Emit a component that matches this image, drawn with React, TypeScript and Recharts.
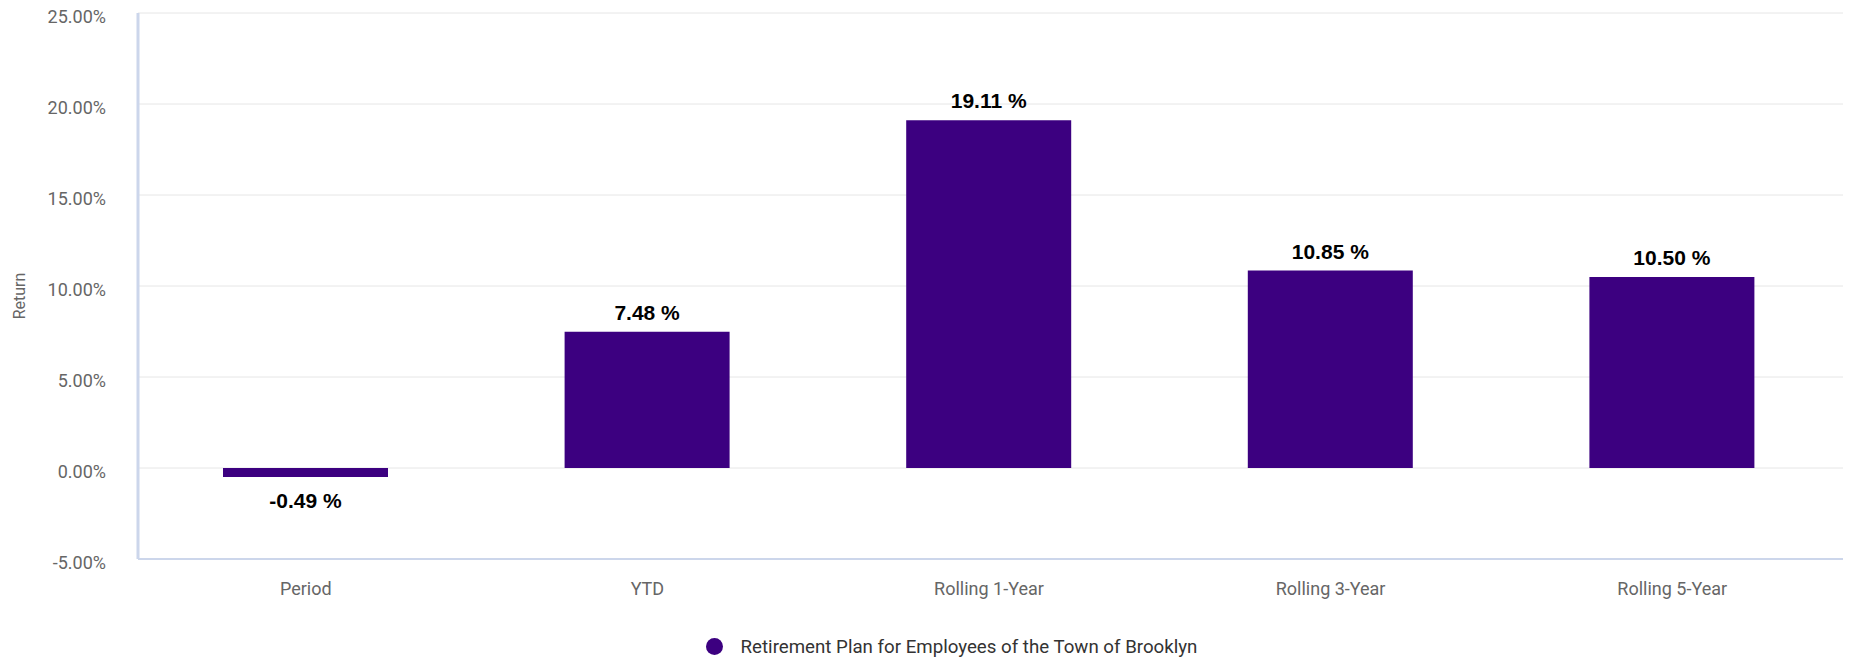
import React from "react";
import {
  BarChart,
  Bar,
  XAxis,
  YAxis,
  CartesianGrid,
  Legend,
  LabelList,
  Label,
} from "recharts";

const categories = ["Period", "YTD", "Rolling 1-Year", "Rolling 3-Year", "Rolling 5-Year"];
const returns = [-0.49, 7.48, 19.11, 10.85, 10.5];
const yTicks = [-5, 0, 5, 10, 15, 20, 25];
const seriesName = "Retirement Plan for Employees of the Town of Brooklyn";

const data = categories.map((c, i) => ({ name: c, value: returns[i] }));

const BAR_COLOR = "#3c0080";

const renderValueLabel = (props: any) => {
  const { x, y, width, height, value } = props;
  const top = Math.min(y, y + height);
  const bottom = Math.max(y, y + height);
  const cx = x + width / 2;
  const ty = value < 0 ? bottom + 31 : top - 12;
  return (
    <text
      x={cx}
      y={ty}
      textAnchor="middle"
      fill="#000000"
      style={{ fontFamily: "'Liberation Sans', Arial, sans-serif", fontSize: 21, fontWeight: 700 }}
    >
      {`${Number(value).toFixed(2)} %`}
    </text>
  );
};

const renderLegend = () => (
  <div
    style={{
      height: 63,
      boxSizing: "border-box",
      paddingTop: 36,
      paddingLeft: 60,
      display: "flex",
      justifyContent: "center",
      alignItems: "center",
      fontFamily: "Roboto, sans-serif",
      fontSize: 18.7,
      lineHeight: "20px",
      color: "#333333",
    }}
  >
    <span style={{ display: "flex", alignItems: "center" }}>
      <span
        style={{
          display: "inline-block",
          width: 17,
          height: 17,
          borderRadius: "50%",
          background: BAR_COLOR,
          marginRight: 18,
        }}
      />
      <span>{seriesName}</span>
    </span>
  </div>
);

const renderYTitle = (props: any) => {
  const vb = props.viewBox || {};
  const cy = vb.y + vb.height / 2 + 10;
  const cx = 19;
  return (
    <text
      x={cx}
      y={cy}
      transform={`rotate(-90, ${cx}, ${cy})`}
      textAnchor="middle"
      dominantBaseline="central"
      fill="#666666"
      style={{ fontFamily: "Roboto, sans-serif", fontSize: 16 }}
    >
      Return
    </text>
  );
};

const renderYTick = (props: any) => {
  const { x, y, payload } = props;
  return (
    <text
      x={x}
      y={y + 3}
      textAnchor="end"
      dominantBaseline="central"
      fill="#666666"
      style={{ fontFamily: "Roboto, sans-serif", fontSize: 18 }}
    >
      {`${Number(payload.value).toFixed(2)}%`}
    </text>
  );
};

export default function App() {
  return (
    <div style={{ position: "absolute", left: 0, top: 0, width: 1851, height: 660, background: "#fff" }}>
      <BarChart
        width={1851}
        height={660}
        data={data}
        margin={{ top: 13, right: 8, left: 0, bottom: 0 }}
      >
        <CartesianGrid horizontal={true} vertical={false} stroke="#e6e6e6" strokeWidth={1} />
        <XAxis
          dataKey="name"
          height={38}
          tickLine={false}
          tickSize={0}
          tickMargin={23}
          padding={{ left: -3, right: 0 }}
          axisLine={{ stroke: "#ccd6eb", strokeWidth: 2 }}
          tick={{ fill: "#666666", fontSize: 18, fontFamily: "Roboto, sans-serif" }}
          interval={0}
        />
        <YAxis
          width={138}
          domain={[-5, 25]}
          ticks={yTicks}
          allowDataOverflow={true}
          tickLine={false}
          tickSize={0}
          tickMargin={32}
          axisLine={{ stroke: "#ccd6eb", strokeWidth: 3 }}
          tick={renderYTick}
        >
          <Label content={renderYTitle} />
        </YAxis>
        <Legend verticalAlign="bottom" content={renderLegend} />
        <Bar dataKey="value" name={seriesName} fill={BAR_COLOR} barSize={165} isAnimationActive={false}>
          <LabelList dataKey="value" content={renderValueLabel} />
        </Bar>
      </BarChart>
    </div>
  );
}
